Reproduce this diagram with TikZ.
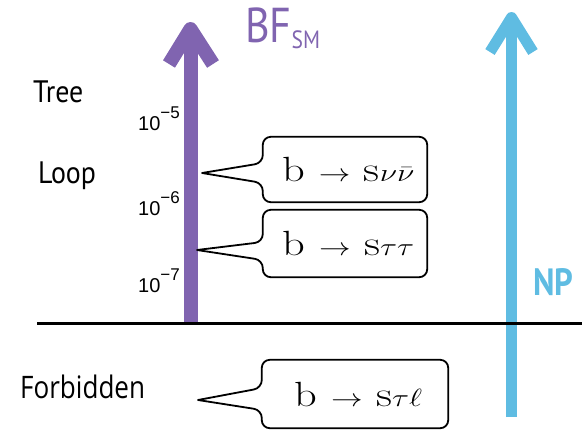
\documentclass[tikz,border=0pt]{standalone}
\usepackage{fontspec}
\newfontfamily\condfont[FakeStretch=0.86]{PT Sans}
\newfontfamily\lvlfont[FakeStretch=0.9]{PT Sans}
\newfontfamily\formfont[FakeStretch=0.84]{Open Sans}
\newfontfamily\tickfont{Liberation Sans}
\definecolor{bfpurple}{RGB}{128,100,176}
\definecolor{npblue}{RGB}{95,188,226}
\tikzset{
  purplearrow/.style={draw=bfpurple, line width=14pt, line join=round, line cap=butt},
  bluearrow/.style={draw=npblue, line width=11pt, line join=round, line cap=butt},
  levellabel/.style={anchor=base west, inner sep=0pt, font=\lvlfont\fontsize{31}{31}\selectfont},
  ticklabel/.style={anchor=base west, inner sep=0pt, font=\tickfont\fontsize{20}{20}\selectfont},
  btext/.style={inner sep=0pt, minimum width=164pt, font=\fontsize{35}{35}\selectfont},
  bubbleline/.style={draw=black, line width=1.8pt, rounded corners=8pt, line cap=round, line join=round},
}
\newcommand{\tick}[1]{10\raisebox{12pt}{\fontsize{17}{17}\selectfont −#1}}
\newcommand{\bstretch}[1]{\hspace{7pt}\scalebox{1.27}[1]{#1}}
\begin{document}
\begin{tikzpicture}[x=1pt,y=-1pt]
\useasboundingbox (0,0) rectangle (587,432);
% arrows
\coordinate (pbot) at (190.5,322);
\coordinate (ptip) at (190.5,29);
\coordinate (pwl) at (169,64);
\coordinate (pwr) at (213,64);
\draw[purplearrow] (pbot) -- (ptip);
\draw[purplearrow] (pwl) -- (ptip) -- (pwr);
\coordinate (bbot) at (511.5,417);
\coordinate (btip) at (511.5,17.5);
\coordinate (bwl) at (490,52);
\coordinate (bwr) at (533,52);
\draw[bluearrow] (bbot) -- (btip);
\draw[bluearrow] (bwl) -- (btip) -- (bwr);
% horizontal line
\coordinate (hl) at (37,323.5);
\coordinate (hr) at (582,323.5);
\draw[line width=3pt] (hl) -- (hr);
% labels
\node[anchor=base west, inner sep=0pt, text=bfpurple] (bf) at (245,42)
  {\condfont\fontsize{49}{49}\selectfont BF\raisebox{-6pt}{\fontsize{25}{25}\selectfont SM}};
\node[anchor=base west, inner sep=0pt, text=npblue] (np) at (533,295)
  {\condfont\bfseries\fontsize{38}{38}\selectfont NP};
\node[levellabel] (tree) at (33,102) {Tree};
\node[levellabel] (loop) at (38,183) {Loop};
\node[anchor=base west, inner sep=0pt, font=\formfont\fontsize{31}{31}\selectfont] (forb) at (20,398) {Forbidden};
\node[ticklabel] (t5) at (138,130) {\tick{5}};
\node[ticklabel] (t6) at (138,215) {\tick{6}};
\node[ticklabel] (t7) at (138,292) {\tick{7}};
% bubbles
\node[btext, minimum height=65pt] (b1) at (345,169.5) {\bstretch{b $\rightarrow$ s$\nu\bar{\nu}$}};
\coordinate (p1) at (202,173);
\draw[bubbleline] (p1) -- ([yshift=-13.5pt]b1.west) -- (b1.south west) -- (b1.south east)
  -- (b1.north east) -- (b1.north west) -- ([yshift=6.5pt]b1.west) -- (p1);
\node[btext, minimum height=67pt] (b2) at (345,243.5) {\bstretch{b $\rightarrow$ s$\tau\tau$}};
\coordinate (p2) at (197,250);
\draw[bubbleline] (p2) -- ([yshift=-16.5pt]b2.west) -- (b2.south west) -- (b2.south east)
  -- (b2.north east) -- (b2.north west) -- ([yshift=1.5pt]b2.west) -- (p2);
\node[btext, minimum width=186pt, minimum height=68pt] (b3) at (355,394) {\bstretch{b $\rightarrow$ s$\tau\ell$}};
\coordinate (p3) at (198,400);
\draw[bubbleline] (p3) -- ([yshift=-16pt]b3.west) -- (b3.south west) -- (b3.south east)
  -- (b3.north east) -- (b3.north west) -- ([yshift=6pt]b3.west) -- (p3);
\end{tikzpicture}
\end{document}
